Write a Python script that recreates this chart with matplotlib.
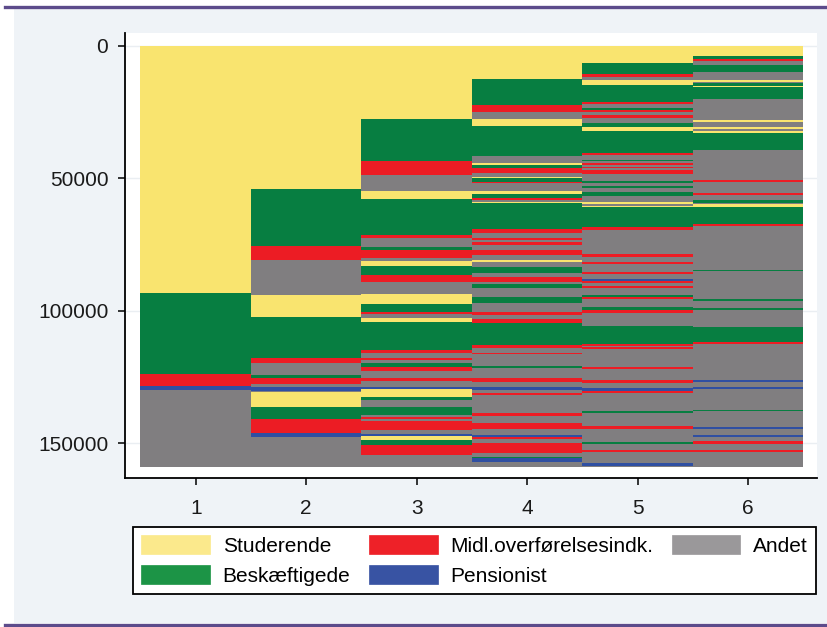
import numpy as np
import matplotlib
matplotlib.use("Agg")
import matplotlib.pyplot as plt
from matplotlib.patches import Patch, Rectangle
from matplotlib.lines import Line2D

plt.rcParams['font.family'] = ['Liberation Sans', 'DejaVu Sans']

# ---------------- data ----------------
state_names = {"S": "Studerende", "B": "Beskæftigede", "M": "Midl.overførelsesindk.",
               "P": "Pensionist", "A": "Andet"}
state_colors = {"S": "#f9e46f", "B": "#077e41", "M": "#ec1c24", "P": "#2f4fa2", "A": "#807e80"}
legend_colors = {"S": "#fbe98c", "B": "#1c9446", "M": "#ee2128", "P": "#3853a3", "A": "#9a989a"}

columns = [1, 2, 3, 4, 5, 6]
x_tick_labels = ["1", "2", "3", "4", "5", "6"]
y_ticks = [0, 50000, 100000, 150000]
y_tick_labels = ["0", "50000", "100000", "150000"]

col1_states = ["S", "B", "M", "P", "A"]
col1_counts = [93200, 30600, 4700, 1300, 29200]

col2_states = ["S", "B", "M", "A", "S", "B", "M", "A", "B", "M", "A", "P", "A", "S", "B", "M", "P", "A"]
col2_counts = [54200, 21300, 5300, 13100, 8600, 15400, 1900, 4400, 1000, 2300, 1300, 1300, 500,
               5700, 4500, 5500, 1300, 11400]

col3_states = ["S", "B", "M", "A", "S", "B", "M", "A", "B", "M", "A", "S", "B", "M", "A", "S", "B",
               "M", "A", "S", "B", "M", "A", "M", "A", "B", "M", "A", "M", "A", "P", "S", "B", "A",
               "B", "A", "M", "A", "M", "A", "P", "S", "B", "M", "A"]
col3_counts = [27800, 15700, 5300, 6000, 3100, 13500, 1300, 3100, 1300, 2900, 1100, 1900, 3500,
               2500, 4800, 3800, 2800, 1000, 1500, 1500, 10400, 1300, 1900, 600, 1300, 1300,
               1500, 2600, 1100, 2300, 1000, 2800, 1000, 2800, 3100, 600, 1000, 500, 3500, 1500,
               800, 1300, 2100, 3800, 4500]

col4_states = ["S", "B", "M", "A", "S", "B", "A", "S", "B", "M", "A", "S", "B", "M", "A", "S", "B",
               "M", "A", "S", "B", "M", "A", "M", "A", "M", "A", "M", "A", "S", "A", "B", "A", "M",
               "A", "B", "A", "B", "A", "M", "A", "M", "B", "M", "A", "M", "A", "B", "A", "M", "A",
               "P", "A", "M", "A", "M", "A", "M", "A", "P", "M", "A", "M", "A", "B", "P", "A"]
col4_counts = [12600, 9800, 2500, 2900, 2500, 11300, 2800, 600, 1000, 1900, 1500, 600, 1300, 600,
               2900, 1300, 1500, 600, 600, 600, 9800, 1300, 2100, 600, 1000, 900, 1900, 1900,
               1900, 900, 1900, 2300, 1300, 1900, 900, 1600, 3100, 2500, 3100, 1300, 1600, 1500,
               8200, 1300, 1600, 500, 4500, 900, 3800, 1300, 2100, 1000, 1000, 900, 6900, 1000,
               2800, 2300, 2100, 600, 1000, 1500, 3500, 1500, 600, 1300, 2100]

col5_states = ["S", "B", "M", "A", "S", "B", "M", "A", "B", "M", "A", "M", "A", "B", "S", "B", "M",
               "A", "B", "A", "M", "A", "M", "A", "M", "A", "B", "A", "B", "A", "B", "A", "S", "A",
               "S", "B", "M", "A", "M", "A", "M", "A", "M", "A", "P", "M", "A", "M", "A", "B", "M",
               "A", "B", "M", "A", "B", "M", "A", "M", "A", "M", "A", "M", "A", "P", "M", "A", "B",
               "A", "M", "A", "B", "A", "M", "A", "P", "A"]
col5_counts = [6700, 3800, 1300, 1300, 1600, 6500, 900, 1300, 800, 900, 1000, 1100, 2000, 1500,
               1300, 8600, 600, 1900, 500, 800, 600, 600, 500, 800, 1500, 2500, 900, 1000, 900,
               1400, 1500, 2300, 900, 600, 600, 7300, 1300, 9100, 900, 1900, 800, 3000, 800, 2100,
               600, 600, 1300, 900, 2600, 600, 900, 2900, 1300, 900, 5000, 6900, 600, 400, 900,
               6500, 800, 4400, 900, 2100, 1000, 600, 6900, 900, 4800, 1300, 4700, 800, 2100, 900,
               4200, 900, 600]

col6_states = ["S", "B", "M", "A", "B", "A", "S", "A", "B", "S", "B", "A", "S", "A", "S", "A", "S",
               "B", "A", "M", "A", "M", "A", "B", "A", "S", "B", "M", "A", "B", "A", "B", "A", "B",
               "A", "B", "M", "A", "P", "A", "P", "A", "B", "A", "P", "A", "P", "A", "M", "A", "M",
               "A"]
col6_counts = [3900, 1300, 600, 1300, 2800, 3100, 600, 600, 900, 600, 4500, 7800, 900, 1600, 800,
               800, 1000, 6300, 11300, 800, 3900, 800, 2100, 1000, 500, 1000, 6300, 800, 16600,
               500, 10700, 600, 2500, 800, 6500, 5700, 600, 13600, 900, 1900, 800, 7800, 600, 5900,
               900, 1900, 800, 1800, 800, 2500, 800, 5600]

all_states = [col1_states, col2_states, col3_states, col4_states, col5_states, col6_states]
all_counts = [col1_counts, col2_counts, col3_counts, col4_counts, col5_counts, col6_counts]

# ---------------- figure ----------------
W, H = 827, 627
fig = plt.figure(figsize=(W / 100, H / 100), dpi=100, facecolor="white")

# graph region background and purple rules
fig.patches.append(Rectangle((14 / W, 1 - 623 / H), 1 - 14 / W, (623 - 8) / H,
                             transform=fig.transFigure, facecolor="#eff3f7",
                             edgecolor="none", zorder=-10))
for yy in (6.5, 624.5):
    fig.lines.append(Line2D([5 / W, 1], [1 - yy / H, 1 - yy / H], transform=fig.transFigure,
                            color="#5c4b8b", linewidth=2.4, zorder=-5))

ax = fig.add_axes([125 / W, 1 - 478 / H, (817 - 125) / W, (478 - 33) / H])
ax.set_zorder(1)
ax.set_facecolor("white")

for col, sts, cnts in zip(columns, all_states, all_counts):
    cnts = np.asarray(cnts, dtype=float)
    starts = np.concatenate([[0], np.cumsum(cnts)[:-1]])
    ax.bar([col] * len(cnts), cnts, bottom=starts, width=1.0,
           color=[state_colors[s] for s in sts], linewidth=0, zorder=2)

ax.set_xlim(0.36, 6.624)
ax.set_ylim(163100, -4790)

ax.set_xticks(columns)
ax.set_xticklabels(x_tick_labels)
ax.set_yticks(y_ticks)
ax.set_yticklabels(y_tick_labels)
ax.tick_params(axis="both", labelsize=15, length=5, width=1.1, color="black",
               labelcolor="#1a1a1a", direction="out")
ax.tick_params(axis="x", pad=10)
ax.tick_params(axis="y", pad=7)

ax.grid(axis="y", color="#eaeef2", linewidth=1.0, zorder=0)
ax.set_axisbelow(True)
for side in ("top", "right"):
    ax.spines[side].set_visible(False)
for side in ("left", "bottom"):
    ax.spines[side].set_linewidth(1.3)
    ax.spines[side].set_color("black")

order = ["S", "B", "M", "P", "A"]
handles = [Patch(facecolor=legend_colors[s], edgecolor=legend_colors[s], linewidth=0.5,
                 label=state_names[s]) for s in order]
leg = fig.legend(handles=handles, loc="upper left", bbox_to_anchor=(133 / W, 1 - 527 / H),
                 ncol=3, fontsize=15, frameon=True, fancybox=False, borderpad=0.4,
                 handlelength=3.3, handleheight=1.0, handletextpad=0.6, columnspacing=0.89,
                 labelspacing=0.45, borderaxespad=0, framealpha=1.0)
leg.get_frame().set_edgecolor("black")
leg.get_frame().set_linewidth(1.3)
leg.get_frame().set_facecolor("white")

fig.savefig("out.png", dpi=100, facecolor=fig.get_facecolor())
